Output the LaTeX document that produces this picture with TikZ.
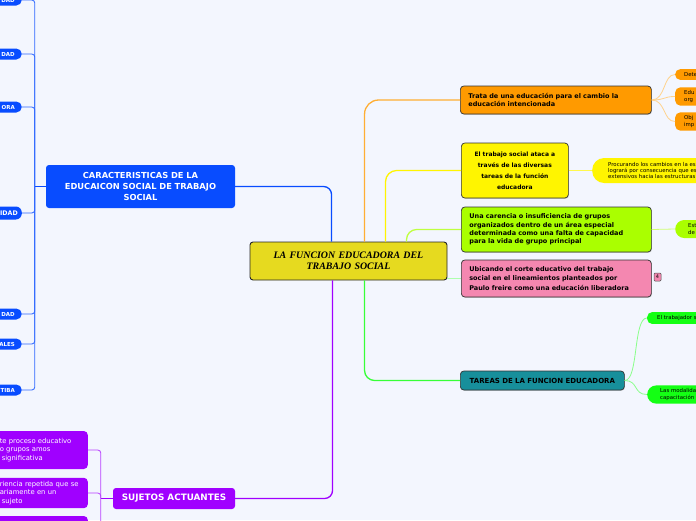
\documentclass[tikz,border=0pt]{standalone}
\usepackage{fontspec}
\newfontfamily\mapsans{DejaVu Sans}
\newfontfamily\mapserif{Liberation Serif}
\usetikzlibrary{calc,shadows}
\definecolor{bgc}{RGB}{243,246,254}
\definecolor{hubc}{RGB}{230,218,31}
\definecolor{bluec}{RGB}{8,76,255}
\definecolor{purc}{RGB}{160,0,255}
\definecolor{orc}{RGB}{255,154,0}
\definecolor{yelc}{RGB}{255,245,0}
\definecolor{limc}{RGB}{170,255,0}
\definecolor{pinkc}{RGB}{244,135,176}
\definecolor{tealc}{RGB}{23,143,155}
\definecolor{grnc}{RGB}{20,255,20}

\begin{document}
\begin{tikzpicture}[x=1pt,y=-1pt,
  hub/.style={draw=black!85,line width=0.9pt,fill=hubc,rounded corners=3pt,font=\mapserif\bfseries\itshape\fontsize{9.9}{11}\selectfont,text width=184pt,inner xsep=6.5pt,minimum height=38pt,align=center},
  topic/.style={draw=black!80,line width=0.7pt,rounded corners=3.5pt,anchor=west,font=\mapsans\bfseries\fontsize{6.5}{8.4}\selectfont,inner xsep=8pt,align=left,drop shadow={shadow xshift=0.6pt,shadow yshift=-0.8pt,opacity=0.35}},
  cat/.style={fill=#1,text=white,rounded corners=3pt,font=\mapsans\bfseries\fontsize{8.3}{11}\selectfont,align=center},
  leaf/.style={fill=bluec,text=white,anchor=east,font=\mapsans\bfseries\fontsize{5.5}{6}\selectfont,minimum height=11pt,text width=36pt,inner xsep=7pt,align=right,rounded corners=5.5pt},
  kid/.style={fill=purc,text=white,anchor=east,font=\mapsans\fontsize{6.8}{8.6}\selectfont,text width=84pt,inner xsep=4pt,align=left,rounded corners=4pt},
  pill/.style={fill=#1,anchor=west,font=\mapsans\fontsize{5.4}{6.3}\selectfont,text width=70pt,align=left,rounded corners=5pt},
  e/.style={draw=#1,line width=1.3pt},
  f/.style={draw=#1,line width=0.8pt}]
  \fill[bgc] (0,0) rectangle (696,520);
  \useasboundingbox (0,0) rectangle (696,520);

  % centre
  \node[hub] (c) at (348.5,261) {LA FUNCION EDUCADORA DEL\\TRABAJO SOCIAL};

  % right side topics
  \node[topic,fill=orc,text width=175pt,minimum height=28pt] (o) at (460,100) {Trata de una educación para el cambio la\\educación intencionada};
  \node[topic,fill=yelc,text width=91pt,minimum height=55pt,align=center,font=\mapsans\bfseries\fontsize{6}{11}\selectfont] (yt) at (461,170.5) {El trabajo social ataca a\\través de las diversas\\tareas de la función\\educadora};
  \node[topic,fill=limc,text width=174pt,minimum height=45pt] (g) at (461,229.5) {Una carencia o insuficiencia de grupos\\organizados dentro de un área especial\\determinada como una falta de capacidad\\para la vida de grupo principal};
  \node[topic,fill=pinkc,text width=174pt,minimum height=37pt,font=\mapsans\bfseries\fontsize{6.5}{9.5}\selectfont] (p) at (461,278.5) {Ubicando el corte educativo del trabajo\\social en el lineamientos planteados por\\Paulo freire como una educación liberadora};
  \node[topic,fill=tealc,text width=148pt,minimum height=19pt,align=center,font=\mapsans\bfseries\fontsize{7}{8}\selectfont] (t) at (460,380.5) {TAREAS DE LA FUNCION EDUCADORA};
  \node[draw=black!70,line width=0.5pt,fill=pinkc,rounded corners=1pt,font=\mapsans\fontsize{5}{5}\selectfont,inner sep=1pt,minimum width=7pt,minimum height=8pt] (nb) at (657.5,277) {4};

  % left side topics
  \node[cat=bluec,text width=181pt,inner xsep=4pt,minimum height=43pt] (k) at (140.5,186.5) {CARACTERISTICAS DE LA\\EDUCAICON SOCIAL DE TRABAJO\\SOCIAL};
  \node[cat=purc,minimum width=122pt,minimum height=21pt,font=\mapsans\bfseries\fontsize{8.8}{10}\selectfont] (s) at (174,498.5) {SUJETOS ACTUANTES};

  % cut leaves on the left
  \foreach \n/\yy/\txt in {1/0/DAD,2/54/DAD,3/107/ORA,5/314/DAD,6/344/ALES,7/390/TIBA}
    \node[leaf] (b\n) at (22,\yy) {\txt};
  \node[leaf,minimum height=13pt,inner xsep=4pt,rounded corners=6pt,font=\mapsans\bfseries\fontsize{6.3}{7}\selectfont] (b4) at (22,213) {IDAD};
  \node[kid,minimum height=38pt] (s1) at (88,450) {te proceso educativo\\o grupos amos\\\hspace*{2pt}significativa};
  \node[kid,minimum height=30pt] (s2) at (88,493) {riencia repetida que se\\ariamente en un\\\hspace*{2pt}sujeto};
  \node[kid,minimum height=30pt] (s3) at (88,531) {};

  % cut leaves on the right
  \node[pill=orc,minimum height=10pt,inner xsep=9pt] (o1) at (675,74.5) {Dete};
  \node[pill=orc,minimum height=16pt,inner xsep=9pt] (o2) at (675,96.5) {Edu\\org};
  \node[pill=orc,minimum height=17pt,inner xsep=9pt] (o3) at (675,121.5) {Obj\\imp};
  \node[pill=yelc,minimum height=25pt,inner xsep=16pt,rounded corners=12pt,text width=110pt] (y1) at (592,170.5) {Procurando los cambios en la es\\logrará por consecuencia que es\\extensivos hacia las estructuras};
  \node[pill=limc,minimum height=18pt,inner xsep=13pt,rounded corners=9pt] (g1) at (675,229) {Est\\de};
  \node[pill=grnc,minimum height=11pt,inner xsep=10pt] (t1) at (647,318) {El trabajador s};
  \node[pill=grnc,minimum height=18pt,inner xsep=13pt,rounded corners=9pt] (t2) at (647,394.5) {Las modalida\\capacitación};

  % branches from the centre
  \coordinate (co) at ($(c.north west)+(115,0)$);
  \coordinate (cy) at ($(c.north west)+(136,0)$);
  \coordinate (cg) at ($(c.north west)+(157,0)$);
  \coordinate (cb) at ($(c.north west)+(82,0)$);
  \coordinate (cp) at ($(c.south west)+(83,0)$);
  \coordinate (ct) at ($(c.south west)+(115,0)$);
  \draw[e=orc!80!white,rounded corners=14pt] (co) |- (o.west);
  \draw[e=yelc,rounded corners=11pt] (cy) |- (yt.west);
  \draw[e=limc!75!white,rounded corners=10pt] (cg) |- (g.west);
  \draw[e=grnc!35!white] (c.east |- p.west) -- (p.west);
  \draw[e=grnc!85!white,rounded corners=10pt] (ct) |- (t.west);
  \draw[e=bluec,rounded corners=8pt] (cb) |- (k.east);
  \draw[e=purc,rounded corners=8pt] (cp) |- (s.east);

  % left trunks
  \coordinate (kt) at ($(k.west)+(-11,0)$);
  \draw[e=bluec] (k.west) -- (kt);
  \foreach \n in {1,...,7}
    \draw[f=bluec!85!white,rounded corners=3pt] (kt) |- (b\n.east);
  \coordinate (st) at ($(s.west)+(-12,0)$);
  \draw[e=purc] (s.west) -- (st);
  \foreach \n in {1,2,3}
    \draw[f=purc!75!white,rounded corners=3pt] (st) |- (s\n.east);

  % right twigs
  \foreach \n in {1,2,3}
    \draw[f=orc!45!white] (o.east) .. controls +(14,0) and +(-12,0) .. (o\n.west);
  \draw[f=yelc!70!white] (yt.east) -- (y1.west);
  \draw[f=limc!55!white] (g.east) -- (g1.west);
  \foreach \n in {1,2}
    \draw[f=grnc!50!white] (t.east) .. controls +(14,0) and +(-14,0) .. (t\n.west);
\end{tikzpicture}
\end{document}
